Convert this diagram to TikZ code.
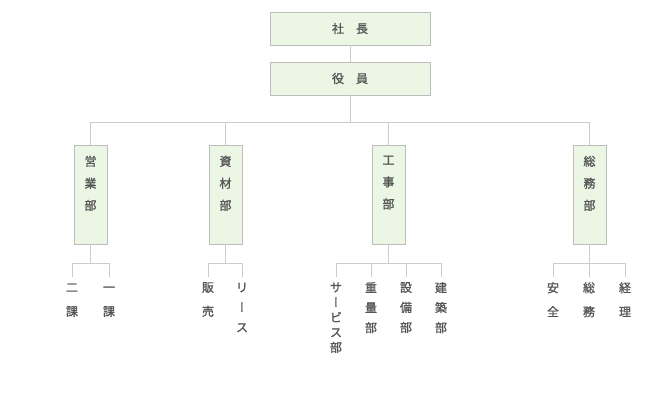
\documentclass[tikz,border=0pt]{standalone}
\usepackage{fontspec}
\newfontfamily\jp[FakeBold=1.2]{Noto Sans CJK JP}
\newfontfamily\jpv[FakeBold=1.2,RawFeature=+vert]{Noto Sans CJK JP}
\newcommand\cho{{\jpv ー}}
\usetikzlibrary{positioning}
\definecolor{boxfill}{HTML}{EBF6E4}
\definecolor{edge}{HTML}{BDBDBD}
\definecolor{wirec}{HTML}{CCCCCC}
\definecolor{ink}{HTML}{555555}

\begin{document}
\begin{tikzpicture}[
  x=1pt, y=-1pt,
  font=\jp\fontsize{12}{14}\selectfont, text=ink,
  head/.style={rectangle, draw=edge, fill=boxfill, line width=0.9pt,
               minimum width=160pt, minimum height=33pt, inner sep=0pt},
  dept/.style={rectangle, draw=edge, fill=boxfill, line width=0.9pt,
               minimum width=33pt, minimum height=99pt, inner sep=0pt},
  dlab/.style={anchor=north, align=center, inner sep=0pt, yshift=-11pt,
               font=\jp\fontsize{12}{22}\selectfont},
  leaf/.style={anchor=north, align=center, inner xsep=0pt, inner ysep=5pt,
               font=\jp\fontsize{12}{#1}\selectfont},
  wire/.style={draw=wirec, line width=0.9pt}
]
\useasboundingbox (0,0) rectangle (650,413);

% top
\node[head] (pres) at (350,28.5) {社　長};
\node[head] (exec) at (350,78.5) {役　員};
\coordinate (hub) at (350,122);

% departments
\node[dept, label={[dlab]north:営\\業\\部}] (sales) at (90.5,194.5) {};
\node[dept, label={[dlab]north:資\\材\\部}] (mat)   at (225.5,194.5) {};
\node[dept, label={[dlab]north:工\\事\\部}] (cons)  at (388.5,194.5) {};
\node[dept, label={[dlab]north:総\\務\\部}] (gen)   at (589.5,194.5) {};

\draw[wire] (pres) -- (exec);
\draw[wire] (exec) -- (hub);
\draw[wire] (hub) -| (sales.north);
\draw[wire] (hub) -| (mat.north);
\draw[wire] (hub) -| (cons.north);
\draw[wire] (hub) -| (gen.north);

% sections
\coordinate (sj) at (90.5,263);
\coordinate (mj) at (225.5,263);
\coordinate (cj) at (388.5,263);
\coordinate (gj) at (589.5,263);

\node[leaf=24pt] (s1) at (72,277)  {\vphantom{課}二\\課};
\node[leaf=24pt] (s2) at (109,277) {\vphantom{課}一\\課};
\node[leaf=24pt] (m1) at (208,277) {販\\売};
\node[leaf=20pt] (m2) at (242,277) {\vphantom{課}リ\\\cho\\ス};
\node[leaf=15pt] (c1) at (336,277) {\vphantom{課}サ\\\cho\\ビ\\ス\\部};
\node[leaf=20pt] (c2) at (371,277) {重\\量\\部};
\node[leaf=20pt] (c3) at (406,277) {設\\備\\部};
\node[leaf=20pt] (c4) at (441,277) {建\\築\\部};
\node[leaf=24pt] (g1) at (553,277) {安\\全};
\node[leaf=24pt] (g2) at (589,277) {総\\務};
\node[leaf=24pt] (g3) at (625,277) {経\\理};

\draw[wire] (sales) -- (sj);
\draw[wire] (sj) -| (s1.north);
\draw[wire] (sj) -| (s2.north);
\draw[wire] (mat) -- (mj);
\draw[wire] (mj) -| (m1.north);
\draw[wire] (mj) -| (m2.north);
\draw[wire] (cons) -- (cj);
\draw[wire] (cj) -| (c1.north);
\draw[wire] (cj) -| (c2.north);
\draw[wire] (cj) -| (c3.north);
\draw[wire] (cj) -| (c4.north);
\draw[wire] (gen) -- (gj);
\draw[wire] (gj) -| (g1.north);
\draw[wire] (gj) -| (g2.north);
\draw[wire] (gj) -| (g3.north);
\end{tikzpicture}
\end{document}
